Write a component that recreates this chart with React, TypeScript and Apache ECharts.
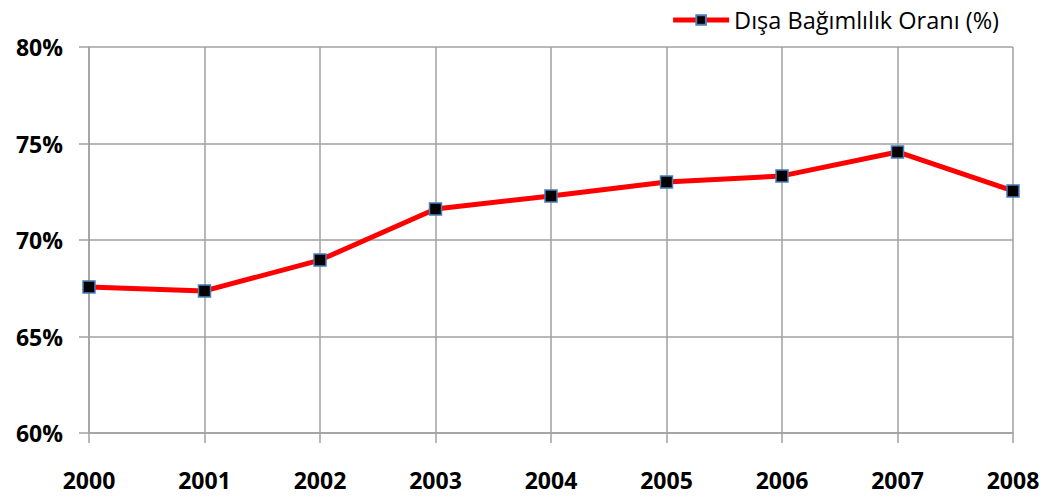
import React, { useEffect, useRef } from "react";
import * as echarts from "echarts";

const years = ["2000", "2001", "2002", "2003", "2004", "2005", "2006", "2007", "2008"];
const ratio = [67.57, 67.36, 68.96, 71.61, 72.28, 73.0, 73.32, 74.56, 72.54];
const seriesName = "Dışa Bağımlılık Oranı (%)";

export default function App() {
  const ref = useRef<HTMLDivElement>(null);
  useEffect(() => {
    const chart = echarts.init(ref.current!, null, { renderer: "svg" });
    const font = "'Open Sans', 'Liberation Sans', sans-serif";
    chart.setOption({
      animation: false,
      backgroundColor: "#ffffff",
      legend: {
        data: [seriesName],
        right: 50,
        top: 3,
        itemWidth: 56,
        itemHeight: 12,
        itemGap: 6,
        lineStyle: { width: 5 },
        textStyle: { fontFamily: font, fontSize: 23.5, color: "#000" },
      },
      grid: { left: 89, right: 41, top: 47, bottom: 64, containLabel: false },
      xAxis: {
        type: "category",
        data: years,
        boundaryGap: false,
        axisLine: { show: true, lineStyle: { color: "#a0a0a0", width: 1.5 } },
        axisTick: { show: true, length: 10, lineStyle: { color: "#a0a0a0", width: 1.5 } },
        axisLabel: { fontFamily: font, fontSize: 23, fontWeight: "bold", color: "#000", margin: 35 },
        splitLine: { show: true, lineStyle: { color: "#a0a0a0", width: 1.5 } },
      },
      yAxis: {
        type: "value",
        min: 60,
        max: 80,
        interval: 5,
        axisLine: { show: true, lineStyle: { color: "#a0a0a0", width: 1.5 } },
        axisTick: { show: true, length: 10, lineStyle: { color: "#a0a0a0", width: 1.5 } },
        axisLabel: { fontFamily: font, fontSize: 23, fontWeight: "bold", color: "#000", margin: 26, formatter: "{value}%" },
        splitLine: { show: true, lineStyle: { color: "#a0a0a0", width: 1.5 } },
      },
      series: [
        {
          name: seriesName,
          type: "line",
          data: ratio,
          symbol: "rect",
          symbolSize: 12,
          lineStyle: { color: "#ff0000", width: 5 },
          itemStyle: { color: "#000000", borderColor: "#4a7ebb", borderWidth: 1.5 },
        },
      ],
    });
    return () => chart.dispose();
  }, []);
  return <div ref={ref} style={{ width: 1054, height: 497, position: "absolute", left: 0, top: 0 }} />;
}
